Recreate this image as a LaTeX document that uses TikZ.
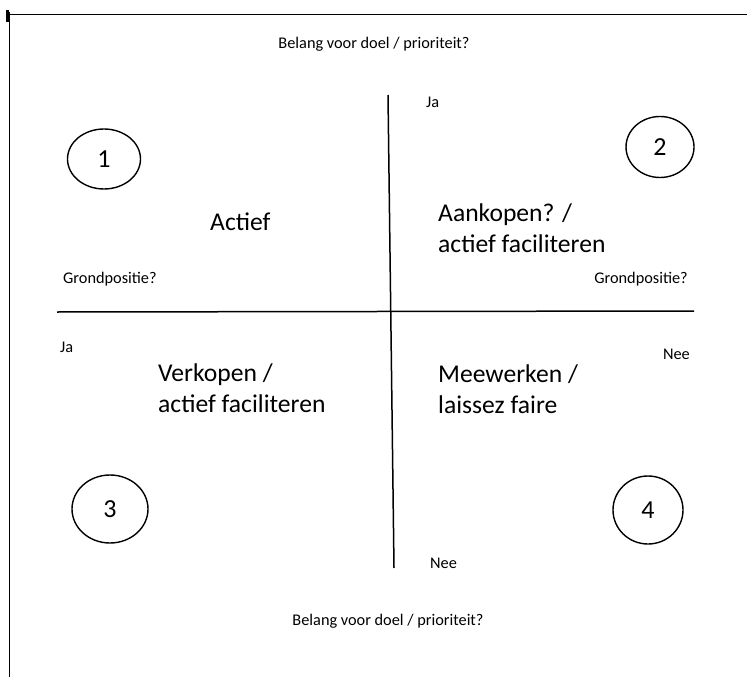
\documentclass[tikz,border=0pt]{standalone}
\usepackage{fontspec}
\setmainfont{Carlito}
\usetikzlibrary{shapes.geometric}

\begin{document}
\begin{tikzpicture} [x=1pt,y=-1pt,every node/.style={inner sep=0pt},
	klein/.style={font=\fontsize{16.3}{18}\selectfont},
	groot/.style={font=\fontsize{25.6}{31}\selectfont,align=left},
	nummer/.style={ellipse,draw,line width=1.4pt,font=\fontsize{26}{30}\selectfont}]
	\useasboundingbox (0,0) rectangle (747,677);
	% kader
	\draw [line width=1.6pt] (9.5,12) -- (9.5,677);
	\draw [line width=1.6pt] (9.5,14.5) -- (747,14.5);
	\draw [line width=2.5pt] (7.5,10) -- (7.5,22);
	% assen
	\coordinate (boven) at (388,95);
	\coordinate (onder) at (394,568);
	\coordinate (links) at (57,312);
	\coordinate (rechts) at (694,311);
	\draw [line width=1.5pt] (boven) -- (onder);
	\draw [line width=1.5pt] (links) -- (rechts);
	% kleine teksten
	\node [klein] (titelb) at (374,44) {Belang voor\ doel\ / prioriteit?};
	\node [klein] (titelo) at (388,621) {Belang voor\ doel\ / prioriteit?};
	\node [klein,anchor=west] (jab) at (426,102) {Ja};
	\node [klein,anchor=west] (neeo) at (430,563) {Nee};
	\node [klein,anchor=west] (gpl) at (63,279) {Grondpositie?};
	\node [klein,anchor=east] (gpr) at (688,279) {Grondpositie?};
	\node [klein,anchor=west] (jal) at (60,347) {Ja};
	\node [klein,anchor=east] (neer) at (690,354) {Nee};
	% kwadranten
	\node [groot,anchor=west] (actief) at (210,222) {Actief};
	\node [groot,anchor=west] (aankopen) at (438,228) {Aankopen? /\\actief faciliteren};
	\node [groot,anchor=west] (verkopen) at (158,388) {Verkopen /\\actief faciliteren};
	\node [groot,anchor=west] (meewerken) at (438,389) {Meewerken /\\laissez faire};
	% nummers
	\node [nummer,minimum width=73,minimum height=60] (n1) at (104,159) {1};
	\node [nummer,minimum width=68,minimum height=61] (n2) at (660,147) {2};
	\node [nummer,minimum width=76,minimum height=68] (n3) at (110,509) {3};
	\node [nummer,minimum width=70,minimum height=68] (n4) at (648,510) {4};
\end{tikzpicture}
\end{document}
